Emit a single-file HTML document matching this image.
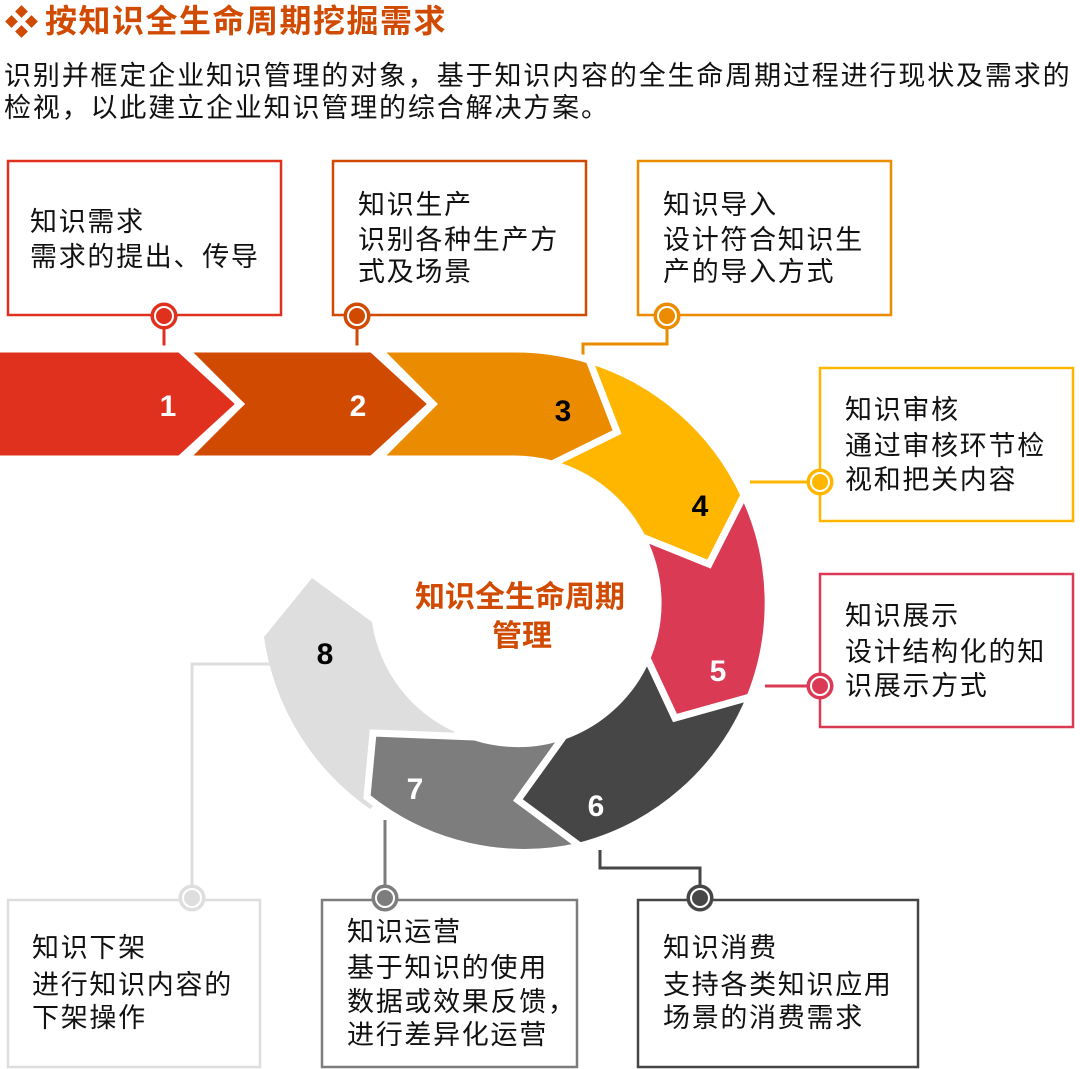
<!DOCTYPE html>
<html><head><meta charset="utf-8"><style>
html,body{margin:0;padding:0;background:#fff;}
svg{display:block;}
text{font-family:"Liberation Sans","Noto Sans CJK SC",sans-serif;}
.t{font-size:27px;fill:#111;letter-spacing:1.7px;}
.n{font-size:30px;font-weight:bold;text-anchor:middle;}
</style></head><body>
<svg width="1080" height="1069" viewBox="0 0 1080 1069" xmlns="http://www.w3.org/2000/svg">
<!-- title -->
<g fill="#d04a02">
<rect x="17" y="7" width="9" height="9" transform="rotate(45 21.5 11.5)"/>
<rect x="7" y="17" width="9" height="9" transform="rotate(45 11.5 21.5)"/>
<rect x="27" y="17" width="9" height="9" transform="rotate(45 31.5 21.5)"/>
<rect x="17" y="27" width="9" height="9" transform="rotate(45 21.5 31.5)"/>
</g>
<text x="45" y="32" style="font-size:32px;font-weight:bold;fill:#d04a02;letter-spacing:1.5px">按知识全生命周期挖掘需求</text>
<text x="4" y="85" style="font-size:27px;fill:#111;letter-spacing:1.85px">识别并框定企业知识管理的对象，基于知识内容的全生命周期过程进行现状及需求的</text>
<text x="4" y="117" style="font-size:27px;fill:#111;letter-spacing:1.85px">检视，以此建立企业知识管理的综合解决方案。</text>

<!-- connectors -->
<g fill="none" stroke-width="3">
<line x1="164" y1="316" x2="164" y2="352" stroke="#e0301e"/>
<line x1="357" y1="316" x2="357" y2="352" stroke="#d04a02"/>
<polyline points="667,316 667,344 583,344 583,356" stroke="#eb8c00"/>
<line x1="820" y1="482" x2="750" y2="482" stroke="#ffb600"/>
<line x1="820" y1="686" x2="765" y2="686" stroke="#db3a55"/>
<polyline points="600,850 600,868 700,868 700,898" stroke="#464646"/>
<line x1="385" y1="820" x2="385" y2="898" stroke="#7d7d7d"/>
<polyline points="192,898 192,664 272,664" stroke="#dedede"/>
</g>

<!-- boxes -->
<g fill="none" stroke-width="2.5">
<rect x="8" y="161" width="273" height="154" stroke="#e0301e"/>
<rect x="333" y="161" width="253" height="154" stroke="#d04a02"/>
<rect x="638" y="161" width="253" height="154" stroke="#eb8c00"/>
<rect x="820" y="368" width="253" height="153" stroke="#ffb600"/>
<rect x="820" y="574" width="253" height="153" stroke="#db3a55"/>
<rect x="638" y="900" width="280" height="167" stroke="#464646"/>
<rect x="322" y="900" width="255" height="167" stroke="#7d7d7d"/>
<rect x="8" y="900" width="252" height="167" stroke="#dedede"/>
</g>

<!-- circles -->
<g stroke-width="3">
<circle cx="164" cy="316" r="12" fill="#e0301e" stroke="#e0301e"/><circle cx="164" cy="316" r="9" fill="#e0301e" stroke="#fff" stroke-width="2"/>
<circle cx="357" cy="316" r="12" fill="#d04a02" stroke="#d04a02"/><circle cx="357" cy="316" r="9" fill="#d04a02" stroke="#fff" stroke-width="2"/>
<circle cx="667" cy="316" r="12" fill="#eb8c00" stroke="#eb8c00"/><circle cx="667" cy="316" r="9" fill="#eb8c00" stroke="#fff" stroke-width="2"/>
<circle cx="820" cy="482" r="12" fill="#ffb600" stroke="#ffb600"/><circle cx="820" cy="482" r="9" fill="#ffb600" stroke="#fff" stroke-width="2"/>
<circle cx="820" cy="686" r="12" fill="#db3a55" stroke="#db3a55"/><circle cx="820" cy="686" r="9" fill="#db3a55" stroke="#fff" stroke-width="2"/>
<circle cx="700" cy="898" r="12" fill="#464646" stroke="#464646"/><circle cx="700" cy="898" r="9" fill="#464646" stroke="#fff" stroke-width="2"/>
<circle cx="385" cy="898" r="12" fill="#7d7d7d" stroke="#7d7d7d"/><circle cx="385" cy="898" r="9" fill="#7d7d7d" stroke="#fff" stroke-width="2"/>
<circle cx="192" cy="898" r="12" fill="#dedede" stroke="#dedede"/><circle cx="192" cy="898" r="9" fill="#dedede" stroke="#fff" stroke-width="2"/>
</g>

<!-- ring -->
<g stroke="#fff" stroke-width="7" stroke-linejoin="miter">
<path fill="#dedede" stroke="none" d="M264,637 L312,578 L372,622 A143,143 0 0 0 455,732 L370,809 A253,253 0 0 1 264,637 Z"/>
<path fill="#7d7d7d" d="M564,736 A143,143 0 0 1 475,737 L373,733 L367,797 A250,250 0 0 0 580,846 L518,800 Z"/>
<path fill="#464646" d="M750,697 A253,253 0 0 1 580,846 L518,800 L564,736 A143,143 0 0 0 647,658 L675,718 Z"/>
<path fill="#db3a55" d="M744,495 A253,253 0 0 1 750,697 L675,718 L647,658 A143,143 0 0 0 642,537 L709,564 Z"/>
<path fill="#ffb600" d="M589,360 A253,253 0 0 1 744,495 L709,564 L642,537 A143,143 0 0 0 552,464 L617,432 Z"/>
<path fill="#eb8c00" d="M378,349 L515,349 A253,253 0 0 1 589,360 L617,432 L552,464 A143,143 0 0 0 515,459 L378,459 L433,404 Z"/>
<path fill="#d04a02" d="M185,349 L372,349 L432,404 L372,459 L185,459 L240,404 Z"/>
<path fill="#e0301e" d="M-10,349 L180,349 L240,404 L180,459 L-10,459 Z"/>
</g>

<!-- numbers -->
<text class="n" x="168" y="416" fill="#fff">1</text>
<text class="n" x="358" y="416" fill="#fff">2</text>
<text class="n" x="563" y="421" fill="#000">3</text>
<text class="n" x="700" y="516" fill="#000">4</text>
<text class="n" x="718" y="681" fill="#fff">5</text>
<text class="n" x="596" y="816" fill="#fff">6</text>
<text class="n" x="415" y="799" fill="#fff">7</text>
<text class="n" x="325" y="664" fill="#000">8</text>

<text x="520" y="607" style="font-size:30px;font-weight:bold;fill:#d04a02;text-anchor:middle">知识全生命周期</text>
<text x="522" y="646" style="font-size:30px;font-weight:bold;fill:#d04a02;text-anchor:middle">管理</text>

<!-- box text -->
<text class="t" x="30" y="231">知识需求</text>
<text class="t" x="30" y="266">需求的提出、传导</text>

<text class="t" x="358" y="214">知识生产</text>
<text class="t" x="358" y="249">识别各种生产方</text>
<text class="t" x="358" y="281">式及场景</text>

<text class="t" x="663" y="214">知识导入</text>
<text class="t" x="663" y="249">设计符合知识生</text>
<text class="t" x="663" y="281">产的导入方式</text>

<text class="t" x="845" y="419">知识审核</text>
<text class="t" x="845" y="455">通过审核环节检</text>
<text class="t" x="845" y="489">视和把关内容</text>

<text class="t" x="845" y="625">知识展示</text>
<text class="t" x="845" y="661">设计结构化的知</text>
<text class="t" x="845" y="695">识展示方式</text>

<text class="t" x="663" y="957">知识消费</text>
<text class="t" x="663" y="994">支持各类知识应用</text>
<text class="t" x="663" y="1027">场景的消费需求</text>

<text class="t" x="347" y="941">知识运营</text>
<text class="t" x="347" y="977">基于知识的使用</text>
<text class="t" x="347" y="1011">数据或效果反馈，</text>
<text class="t" x="347" y="1044">进行差异化运营</text>

<text class="t" x="32" y="957">知识下架</text>
<text class="t" x="32" y="994">进行知识内容的</text>
<text class="t" x="32" y="1027">下架操作</text>
</svg>
</body></html>
